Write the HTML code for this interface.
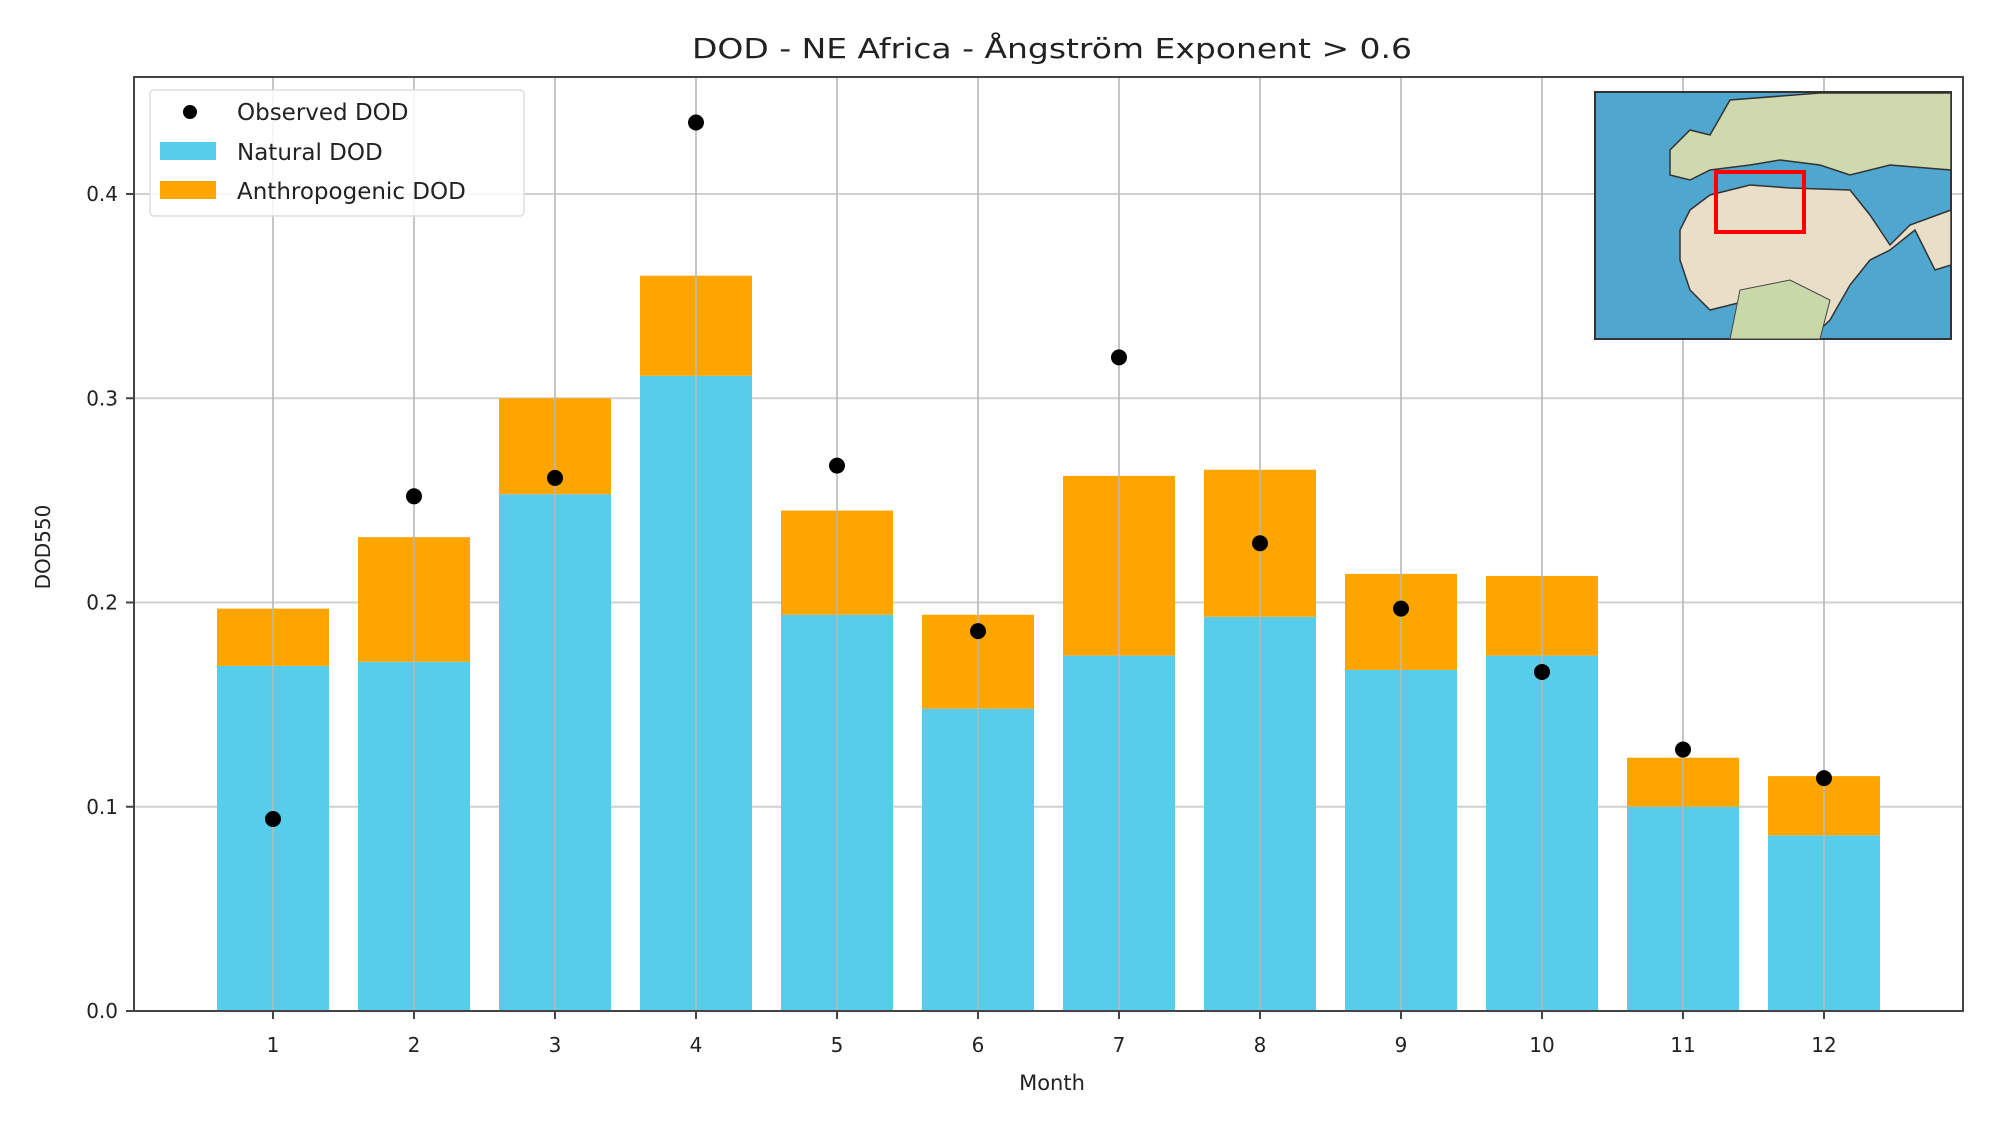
<!DOCTYPE html>
<html><head><meta charset="utf-8"><style>
html,body{margin:0;padding:0;background:#fff;}
svg{display:block;font-family:"DejaVu Sans","Liberation Sans",sans-serif;}
</style></head><body>
<svg id="chart" width="2003" height="1121" viewBox="0 0 2003 1121">
<text x="1052" y="58" font-size="28" text-anchor="middle" fill="#222" textLength="720" lengthAdjust="spacingAndGlyphs">DOD - NE Africa - Ångström Exponent &gt; 0.6</text>
<g id="grid"></g>
<g id="bars"></g>
<g id="points"></g>
<rect x="134" y="77" width="1829" height="934" fill="none" stroke="#444" stroke-width="2"/>
<g id="ticks"></g>
<text x="50" y="547" font-size="20" text-anchor="middle" fill="#222" transform="rotate(-90 50 547)">DOD550</text>
<text x="1052" y="1090" font-size="21" text-anchor="middle" fill="#222">Month</text>
<g>
<rect x="150" y="90" width="374" height="126" rx="4" fill="#fff" fill-opacity="0.85" stroke="#ddd" stroke-width="1.5"/>
<g><circle cx="190" cy="112" r="7" fill="#000"/><text x="237" y="120" font-size="23" fill="#222">Observed DOD</text></g>
<g><rect x="160" y="142" width="56" height="18" fill="#57cdea"/><text x="237" y="160" font-size="23" fill="#222">Natural DOD</text></g>
<g><rect x="160" y="181" width="56" height="18" fill="#ffa500"/><text x="237" y="199" font-size="23" fill="#222">Anthropogenic DOD</text></g>
</g>
<g transform="translate(-10,0)">
<rect x="1605" y="92" width="356" height="247" fill="#4fa6cf" stroke="#333" stroke-width="2"/>
<path d="M1680,150 L1700,130 L1720,135 L1740,100 L1830,93 L1961,93 L1961,170 L1900,165 L1860,175 L1830,165 L1790,160 L1760,165 L1720,170 L1700,180 L1680,175 Z" fill="#cfd9ad" stroke="#333" stroke-width="1.5"/>
<path d="M1690,230 L1700,210 L1720,195 L1760,185 L1800,188 L1860,190 L1880,215 L1900,245 L1920,225 L1961,210 L1961,265 L1945,270 L1925,230 L1900,250 L1880,260 L1860,285 L1840,320 L1820,339 L1770,339 L1760,300 L1720,310 L1700,290 L1690,260 Z" fill="#e9dfc8" stroke="#333" stroke-width="1.5"/>
<path d="M1740,339 L1750,290 L1800,280 L1840,300 L1830,339 Z" fill="#c9d8a8" stroke="#444" stroke-width="1"/>
<rect x="1726" y="172" width="88" height="60" fill="none" stroke="#f00" stroke-width="4"/>
</g>
<script>
const months = [1,2,3,4,5,6,7,8,9,10,11,12];
const naturalDOD = [0.169,0.171,0.253,0.311,0.194,0.148,0.174,0.193,0.167,0.174,0.100,0.086];
const anthropogenicDOD = [0.028,0.061,0.047,0.049,0.051,0.046,0.088,0.072,0.047,0.039,0.024,0.029];
const observedDOD = [0.094,0.252,0.261,0.435,0.267,0.186,0.320,0.229,0.197,0.166,0.128,0.114];
const yTicks = [0.0,0.1,0.2,0.3,0.4];
const yTickLabels = ["0.0","0.1","0.2","0.3","0.4"];

const NS = "http://www.w3.org/2000/svg";
const X0 = 273, DX = 141.0, Y0 = 1011, PY = 2042.5, BW = 112;
function xs(m){ return X0 + (m-1)*DX; }
function ys(v){ return Y0 - v*PY; }
function mk(tag, attrs, parent){
  const e = document.createElementNS(NS, tag);
  for (const k in attrs) e.setAttribute(k, attrs[k]);
  document.getElementById(parent).appendChild(e);
  return e;
}
yTicks.forEach((t,i)=>{
  const g = mk('line',{x1:134,x2:1963,y1:ys(t),y2:ys(t),stroke:'#d0d0d0','stroke-width':2},'grid');
  
  
  const tk = mk('line',{x1:126,x2:134,y1:ys(t),y2:ys(t),stroke:'#444','stroke-width':2},'ticks');
  
  
  const lb = mk('text',{x:118,y:ys(t)+7,'font-size':20,'text-anchor':'end',fill:'#222'},'ticks');
  lb.textContent = yTickLabels[i];
  
  
});
months.forEach((m,i)=>{
  const x = xs(m);
  const nb = mk('rect',{x:x-BW/2,y:ys(naturalDOD[i]),width:BW,height:naturalDOD[i]*PY,fill:'#57cdea'},'bars');
  
  
  const top = naturalDOD[i]+anthropogenicDOD[i];
  const ab = mk('rect',{x:x-BW/2,y:ys(top),width:BW,height:anthropogenicDOD[i]*PY,fill:'#ffa500'},'bars');
  
  
  const gl = mk('line',{x1:x,x2:x,y1:77,y2:1011,stroke:'#b8b8b8','stroke-width':2,'stroke-opacity':0.8},'points');
  
  
  const pt = mk('circle',{cx:x,cy:ys(observedDOD[i]),r:8,fill:'#000'},'points');
  
  
  const tk = mk('line',{x1:x,x2:x,y1:1011,y2:1019,stroke:'#444','stroke-width':2},'ticks');
  
  
  const lb = mk('text',{x:x,y:1052,'font-size':20,'text-anchor':'middle',fill:'#222'},'ticks');
  lb.textContent = String(m);
  
  
});
</script>
</svg>
</body></html>
